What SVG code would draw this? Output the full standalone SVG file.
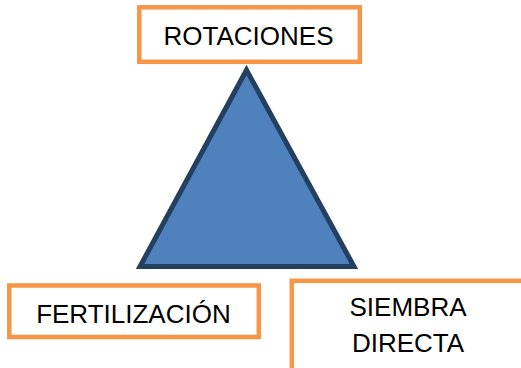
<svg xmlns="http://www.w3.org/2000/svg" width="521" height="368" viewBox="0 0 521 368">
<style>
.box{fill:#fff;stroke:#F79646;stroke-width:4.5}
.lbl{font-family:"Liberation Sans",Arial,sans-serif;font-size:26px;fill:#000;text-anchor:middle}
</style>
<rect width="521" height="368" fill="#fff"/>
<g id="triangle">
<polygon points="246.5,70 140,266.5 354,266.5" fill="#4F81BD" stroke="#243F60" stroke-width="5" stroke-linejoin="miter"/>
</g>
<g id="connectors"></g>
<g id="rotaciones">
<rect class="box" x="139.3" y="7.3" width="220.5" height="54.5"/>
<text class="lbl" x="248.5" y="45">ROTACIONES</text>
</g>
<g id="fertilizacion">
<rect class="box" x="9.3" y="285.5" width="249.5" height="51.5"/>
<text class="lbl" x="133.4" y="322.7">FERTILIZACIÓN</text>
</g>
<g id="siembra">
<rect class="box" x="291.8" y="280.8" width="260" height="120"/>
<text class="lbl" x="408" y="316">SIEMBRA</text>
<text class="lbl" x="408" y="351.7">DIRECTA</text>
</g>
</svg>
